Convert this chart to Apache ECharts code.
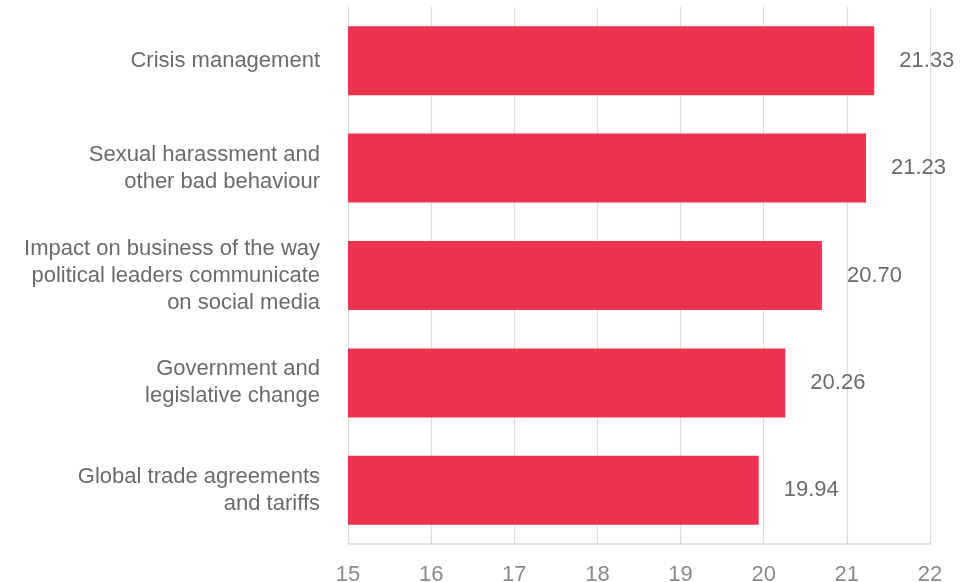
<!DOCTYPE html>
<html>
<head>
<meta charset="utf-8">
<script src="https://cdn.jsdelivr.net/npm/echarts@6/dist/echarts.min.js"></script>
<style>
  html, body { margin: 0; padding: 0; background: #fff; }
  #chart { width: 970px; height: 582px; }
</style>
</head>
<body>
<div id="chart"></div>
<script>
// Issue categories, top to bottom
const categories = [
  'Crisis management',
  'Sexual harassment and\nother bad behaviour',
  'Impact on business of the way\npolitical leaders communicate\non social media',
  'Government and\nlegislative change',
  'Global trade agreements\nand tariffs'
];

// Score per issue
const scores = [21.33, 21.23, 20.70, 20.26, 19.94];

// Value axis range and step
const axisMin = 15;
const axisMax = 22;
const axisStep = 1;

const FONT = '"Liberation Sans", Arial, Helvetica, sans-serif';

const chart = echarts.init(document.getElementById('chart'), null, { renderer: 'canvas' });

chart.setOption({
  animation: false,
  backgroundColor: '#ffffff',
  textStyle: { fontFamily: FONT },
  grid: {
    left: 348, right: 40, top: 7, bottom: 38,
    containLabel: false,
    outerBoundsMode: 'none'
  },
  xAxis: {
    type: 'value',
    min: axisMin,
    max: axisMax,
    interval: axisStep,
    axisLine: { show: true, lineStyle: { color: '#d9d9d9', width: 1.5 } },
    axisTick: { show: false },
    splitLine: { show: true, lineStyle: { color: '#dcdcdc', width: 1.2 } },
    axisLabel: {
      color: '#8a8a8a',
      fontSize: 22,
      margin: 20,
      fontFamily: FONT
    }
  },
  yAxis: {
    type: 'category',
    data: categories,
    inverse: true,
    axisLine: { show: false },
    axisTick: { show: false },
    splitLine: { show: false },
    axisLabel: {
      color: '#6b6b6b',
      fontSize: 22,
      lineHeight: 27,
      margin: 28,
      align: 'right',
      fontFamily: FONT
    }
  },
  series: [{
    type: 'bar',
    data: scores,
    barWidth: 69,
    itemStyle: { color: '#ee3350' },
    label: {
      show: true,
      position: 'right',
      distance: 25,
      color: '#6b6b6b',
      fontSize: 22,
      fontFamily: FONT,
      formatter: p => p.value.toFixed(2)
    }
  }]
});
</script>
</body>
</html>
